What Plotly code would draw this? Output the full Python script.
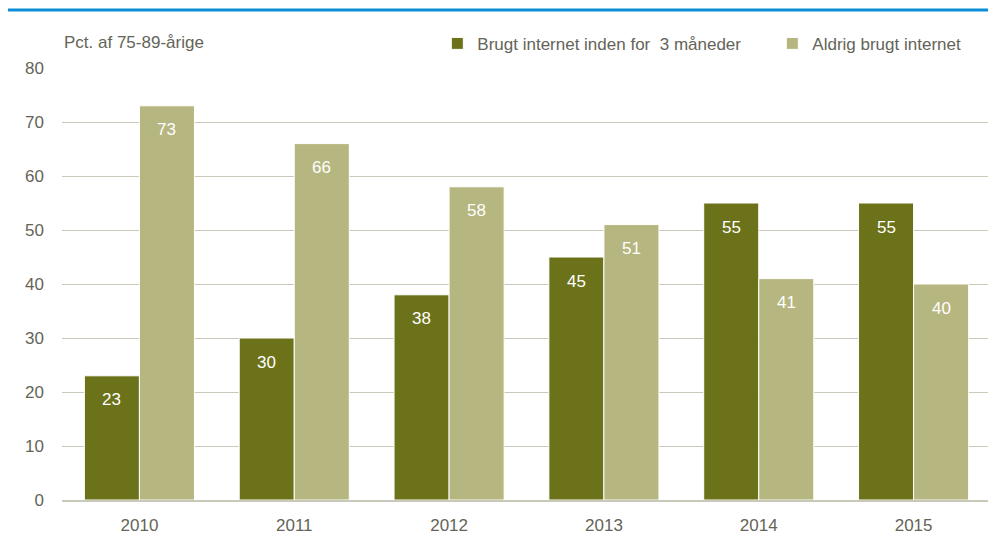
import plotly.graph_objects as go

years = ["2010", "2011", "2012", "2013", "2014", "2015"]
used_recently = [23, 30, 38, 45, 55, 55]
never_used = [73, 66, 58, 51, 41, 40]

dark = "#6b7219"
light = "#b6b680"
text_col = "#646457"
font_family = "Liberation Sans Narrow, Arial Narrow, Liberation Sans, Arial, sans-serif"

fig = go.Figure()
fig.add_trace(go.Bar(
    x=years, y=used_recently, name="Brugt internet inden for  3 måneder",
    marker=dict(color=dark, line=dict(color="white", width=1)),
))
fig.add_trace(go.Bar(
    x=years, y=never_used, name="Aldrig brugt internet",
    marker=dict(color=light, line=dict(color="white", width=1)),
))

# value labels, a little below the top of each bar
# (category index as x: year strings would be read as numbers by annotations)
for vals, shift in [(used_recently, -27.5), (never_used, 27.5)]:
    for i, v in enumerate(vals):
        fig.add_annotation(x=i, y=v, xref="x", yref="y", text=str(v), showarrow=False,
                           xshift=shift, yshift=-24, yanchor="middle",
                           font=dict(color="white", size=17, family=font_family))

# the page adds an 8px body margin, so margins are offset by that
fig.update_layout(
    width=996, height=543,
    margin=dict(l=54, r=13, t=60, b=51, autoexpand=False),
    barmode="group", bargap=0.289, bargroupgap=0,
    plot_bgcolor="white", paper_bgcolor="white",
    font=dict(family=font_family, color=text_col, size=17),
    legend=dict(orientation="h", x=0.404, xanchor="left", yref="container", y=0.934,
                yanchor="middle", font=dict(size=17, color=text_col), itemwidth=30,
                traceorder="normal", entrywidth=290),
)
fig.update_yaxes(range=[0, 80], dtick=10, showgrid=True, gridcolor="#c9c9b9", gridwidth=1,
                 zeroline=False, showline=False, ticks="", ticklabelstandoff=17,
                 automargin=False, tickfont=dict(size=17, color=text_col))
fig.update_xaxes(type="category", range=[-0.5, 5.5], showline=True, linecolor="#c9c9b9",
                 linewidth=2, ticks="", ticklabelstandoff=9, automargin=False,
                 tickfont=dict(size=17, color=text_col))

fig.add_annotation(text="Pct. af 75-89-årige", xref="paper", yref="paper", x=0, y=1.058,
                   xanchor="left", yanchor="middle", showarrow=False,
                   font=dict(size=17, color=text_col))
fig.add_shape(type="line", xref="paper", yref="paper", x0=-0.062, x1=1.011, y0=1.134, y1=1.134,
              line=dict(color="#0a8fd6", width=3))

fig.write_html("out.html")
